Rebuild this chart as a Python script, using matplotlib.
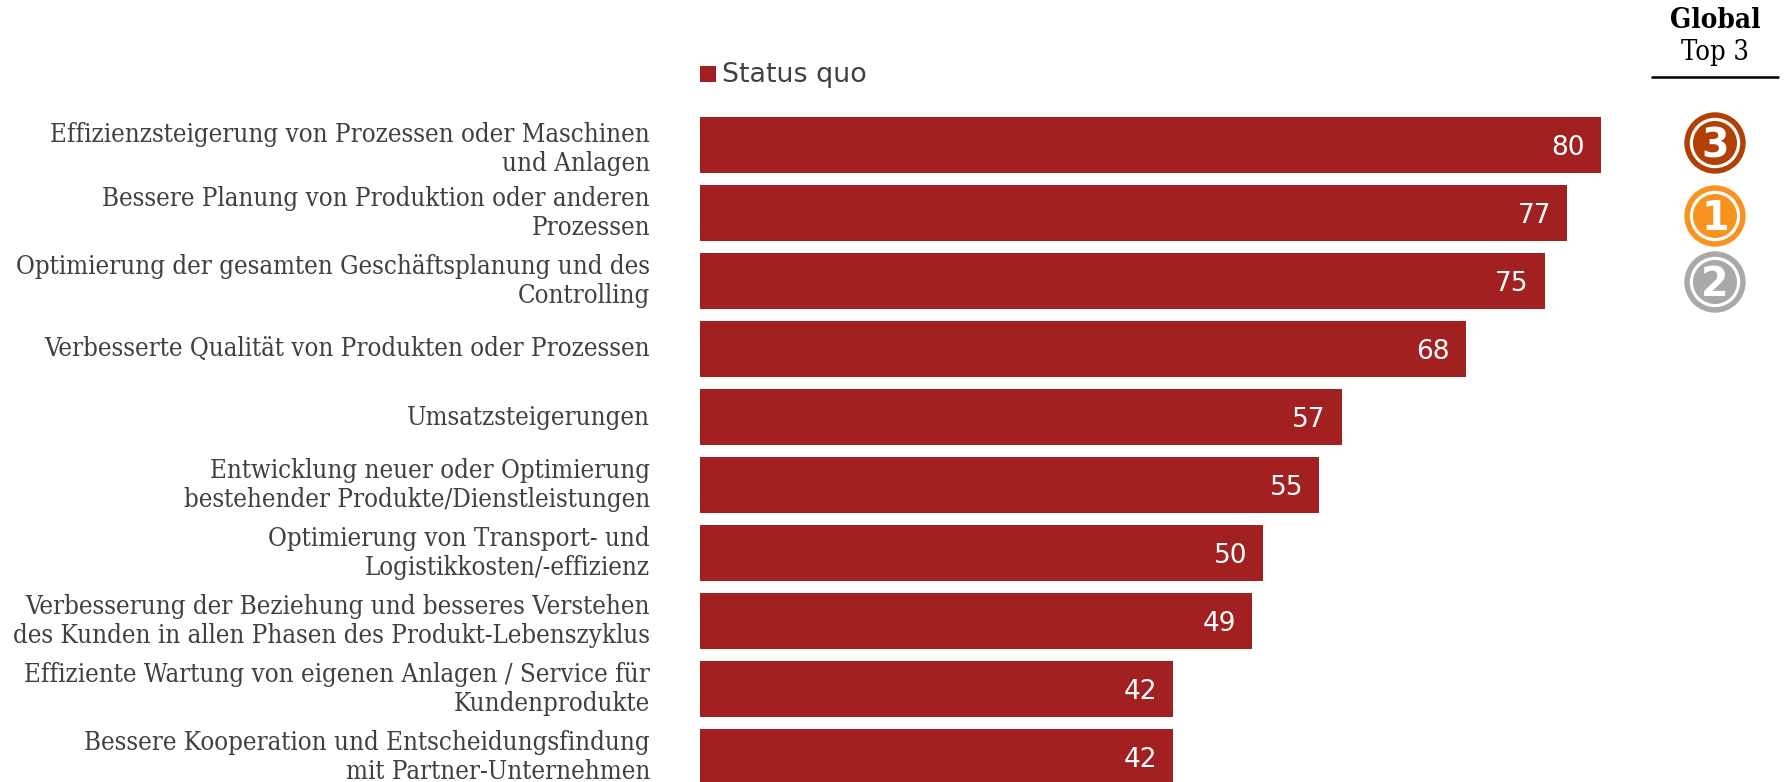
import matplotlib
matplotlib.use("Agg")
import matplotlib.pyplot as plt
from matplotlib.patches import Circle, Rectangle
from matplotlib.transforms import ScaledTranslation

categories = [
    "Effizienzsteigerung von Prozessen oder Maschinen\nund Anlagen",
    "Bessere Planung von Produktion oder anderen\nProzessen",
    "Optimierung der gesamten Geschäftsplanung und des\nControlling",
    "Verbesserte Qualität von Produkten oder Prozessen",
    "Umsatzsteigerungen",
    "Entwicklung neuer oder Optimierung\nbestehender Produkte/Dienstleistungen",
    "Optimierung von Transport- und\nLogistikkosten/-effizienz",
    "Verbesserung der Beziehung und besseres Verstehen\ndes Kunden in allen Phasen des Produkt-Lebenszyklus",
    "Effiziente Wartung von eigenen Anlagen / Service für\nKundenprodukte",
    "Bessere Kooperation und Entscheidungsfindung\nmit Partner-Unternehmen",
]
status_quo = [80, 77, 75, 68, 57, 55, 50, 49, 42, 42]
series_name = "Status quo"
ranks = [3, 1, 2]
rank_colors = ["#B23F03", "#F7931E", "#A9A9A9"]

RED = "#A32020"
W, H = 1786, 782
fig = plt.figure(figsize=(W / 100, H / 100), dpi=100, facecolor="white")

# bar axes
left, top = 700, 100
ax = fig.add_axes([left / W, 0, 1 - left / W, 1 - top / H])
px_per_unit = 11.26
pitch = 68.0
c0 = 145.0
ax.set_xlim(0, (W - left) / px_per_unit)
ax.set_ylim((H - c0) / pitch, (top - c0) / pitch)
y = list(range(len(categories)))
ax.barh(y, status_quo, height=56.5 / pitch, color=RED, linewidth=0)
for s in ax.spines.values():
    s.set_visible(False)
ax.set_xticks([])
ax.set_yticks(y)
ax.set_yticklabels(categories, family="DejaVu Serif", stretch="condensed", fontsize=18.55,
                   color="#404040", ha="right", linespacing=1.2, va="center")
ax.tick_params(axis="y", length=0, pad=36)
ax.patch.set_alpha(0)
first = ax.get_yticklabels()[0]
first.set_transform(first.get_transform() + ScaledTranslation(0, -4 / 100, fig.dpi_scale_trans))
for yi, v in zip(y, status_quo):
    ax.annotate(str(v), (v, yi), xytext=(-11.5, -2.4), textcoords="offset points",
                ha="right", va="center", color="white", fontsize=19, family="DejaVu Sans")

# overlay in pixel coordinates for legend and badges
ov = fig.add_axes([0, 0, 1, 1], facecolor="none")
ov.set_xlim(0, W)
ov.set_ylim(H, 0)
ov.axis("off")

ov.add_patch(Rectangle((700, 66), 15.5, 15.5, color=RED, lw=0))
ov.text(722, 75, series_name, ha="left", va="center", fontsize=19.4, color="#404040", family="DejaVu Sans")

ov.text(1715, 21, "Global", ha="center", va="center", fontsize=20, fontweight="bold",
        color="black", family="DejaVu Serif", stretch="condensed")
ov.text(1715, 53, "Top 3", ha="center", va="center", fontsize=19.5,
        color="black", family="DejaVu Serif", stretch="condensed")
ov.plot([1651, 1779], [76.5, 76.5], color="black", lw=1.8, solid_capstyle="butt")

for r, col, cy in zip(ranks, rank_colors, [143, 216, 282]):
    ov.add_patch(Circle((1715, cy), 30.7, color=col, lw=0))
    ov.add_patch(Circle((1715, cy), 25.2, color="white", lw=0))
    ov.add_patch(Circle((1715, cy), 22.0, color=col, lw=0))
    ov.text(1715, cy - 1, str(r), ha="center", va="center_baseline", color="white",
            fontsize=28.5, fontweight="bold", family="DejaVu Sans")

fig.savefig("out.png", dpi=100, facecolor="white")
